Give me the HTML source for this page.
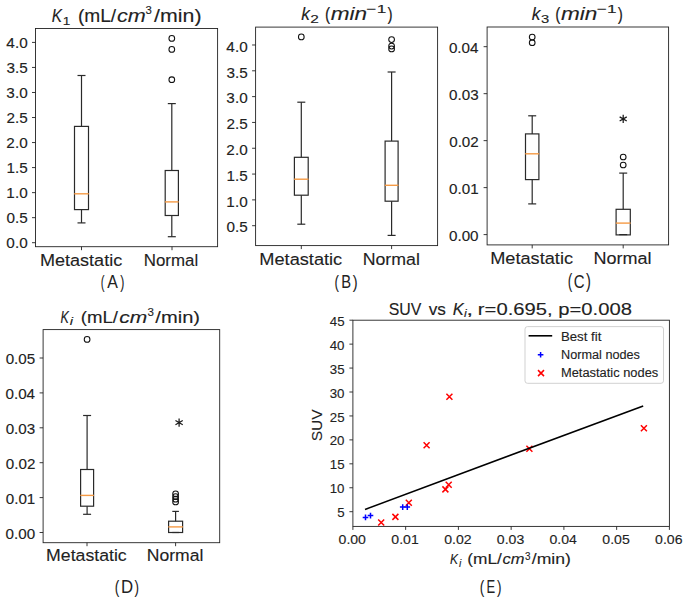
<!DOCTYPE html>
<html><head><meta charset="utf-8"><style>
html,body{margin:0;padding:0;background:#fff;}
svg{display:block;font-family:"Liberation Sans",sans-serif;}
text{stroke:#222;stroke-width:0.12px;}
text.ns{stroke:none;}
</style></head><body>
<svg width="685" height="602" viewBox="0 0 685 602">
<rect width="685" height="602" fill="#fff"/>
<rect x="35.5" y="28.5" width="182.1" height="218.2" fill="none" stroke="#222" stroke-width="0.9"/>
<line x1="32" y1="242.7" x2="35.5" y2="242.7" stroke="#222" stroke-width="0.9" />
<text x="6.38" y="248.3" font-size="13.9" font-style="normal" textLength="21.26" lengthAdjust="spacingAndGlyphs" fill="#222" >0.0</text>
<line x1="32" y1="217.66" x2="35.5" y2="217.66" stroke="#222" stroke-width="0.9" />
<text x="6.46" y="223.26" font-size="13.9" font-style="normal" textLength="21.26" lengthAdjust="spacingAndGlyphs" fill="#222" >0.5</text>
<line x1="32" y1="192.63" x2="35.5" y2="192.63" stroke="#222" stroke-width="0.9" />
<text x="6.38" y="198.23" font-size="13.9" font-style="normal" textLength="21.26" lengthAdjust="spacingAndGlyphs" fill="#222" >1.0</text>
<line x1="32" y1="167.59" x2="35.5" y2="167.59" stroke="#222" stroke-width="0.9" />
<text x="6.46" y="173.19" font-size="13.9" font-style="normal" textLength="21.26" lengthAdjust="spacingAndGlyphs" fill="#222" >1.5</text>
<line x1="32" y1="142.56" x2="35.5" y2="142.56" stroke="#222" stroke-width="0.9" />
<text x="6.38" y="148.16" font-size="13.9" font-style="normal" textLength="21.26" lengthAdjust="spacingAndGlyphs" fill="#222" >2.0</text>
<line x1="32" y1="117.52" x2="35.5" y2="117.52" stroke="#222" stroke-width="0.9" />
<text x="6.46" y="123.12" font-size="13.9" font-style="normal" textLength="21.26" lengthAdjust="spacingAndGlyphs" fill="#222" >2.5</text>
<line x1="32" y1="92.49" x2="35.5" y2="92.49" stroke="#222" stroke-width="0.9" />
<text x="6.38" y="98.09" font-size="13.9" font-style="normal" textLength="21.26" lengthAdjust="spacingAndGlyphs" fill="#222" >3.0</text>
<line x1="32" y1="67.45" x2="35.5" y2="67.45" stroke="#222" stroke-width="0.9" />
<text x="6.46" y="73.05" font-size="13.9" font-style="normal" textLength="21.26" lengthAdjust="spacingAndGlyphs" fill="#222" >3.5</text>
<line x1="32" y1="42.42" x2="35.5" y2="42.42" stroke="#222" stroke-width="0.9" />
<text x="6.38" y="48.02" font-size="13.9" font-style="normal" textLength="21.26" lengthAdjust="spacingAndGlyphs" fill="#222" >4.0</text>
<line x1="81.5" y1="246.7" x2="81.5" y2="250.2" stroke="#222" stroke-width="0.9" />
<line x1="172" y1="246.7" x2="172" y2="250.2" stroke="#222" stroke-width="0.9" />
<line x1="81.5" y1="75.5" x2="81.5" y2="126.4" stroke="#2a2a2a" stroke-width="1.2" />
<line x1="81.5" y1="209.6" x2="81.5" y2="222.9" stroke="#2a2a2a" stroke-width="1.2" />
<line x1="77.5" y1="75.5" x2="85.5" y2="75.5" stroke="#2a2a2a" stroke-width="1.2" />
<line x1="77.5" y1="222.9" x2="85.5" y2="222.9" stroke="#2a2a2a" stroke-width="1.2" />
<rect x="74.5" y="126.4" width="14" height="83.2" fill="none" stroke="#2a2a2a" stroke-width="1.2"/>
<line x1="74.2" y1="193.8" x2="88.8" y2="193.8" stroke="#f59a45" stroke-width="1.4" />
<line x1="171.8" y1="103.6" x2="171.8" y2="170.5" stroke="#2a2a2a" stroke-width="1.2" />
<line x1="171.8" y1="215.5" x2="171.8" y2="236.7" stroke="#2a2a2a" stroke-width="1.2" />
<line x1="167.8" y1="103.6" x2="175.8" y2="103.6" stroke="#2a2a2a" stroke-width="1.2" />
<line x1="167.8" y1="236.7" x2="175.8" y2="236.7" stroke="#2a2a2a" stroke-width="1.2" />
<rect x="165.2" y="170.5" width="13.2" height="45" fill="none" stroke="#2a2a2a" stroke-width="1.2"/>
<line x1="164.9" y1="201.9" x2="178.7" y2="201.9" stroke="#f59a45" stroke-width="1.4" />
<circle cx="171.8" cy="38.4" r="2.85" fill="none" stroke="#111" stroke-width="1.05"/>
<circle cx="171.8" cy="49.4" r="2.85" fill="none" stroke="#111" stroke-width="1.05"/>
<circle cx="171.8" cy="79.7" r="2.85" fill="none" stroke="#111" stroke-width="1.05"/>
<text x="39.96" y="266.3" font-size="16.9" font-style="normal" textLength="82.23" lengthAdjust="spacingAndGlyphs" fill="#222" >Metastatic</text>
<text x="143.75" y="265.8" font-size="16.9" font-style="normal" textLength="54.39" lengthAdjust="spacingAndGlyphs" fill="#222" >Normal</text>
<text x="100.67" y="287.6" font-size="19.04" font-style="normal" textLength="3.77" lengthAdjust="spacingAndGlyphs" fill="#222" class="ns">(</text>
<text x="107.25" y="287.5" font-size="17.83" font-style="normal" textLength="10.63" lengthAdjust="spacingAndGlyphs" fill="#222" class="ns">A</text>
<text x="120.29" y="287.6" font-size="19.04" font-style="normal" textLength="4.15" lengthAdjust="spacingAndGlyphs" fill="#222" class="ns">)</text>
<text x="51.74" y="21.7" font-size="18" font-style="italic" textLength="10.25" lengthAdjust="spacingAndGlyphs" fill="#222" >K</text>
<text x="62.88" y="24.6" font-size="11.8" font-style="normal" textLength="7.54" lengthAdjust="spacingAndGlyphs" fill="#222" >1</text>
<text x="77.95" y="21.8" font-size="18" font-style="normal" textLength="38.25" lengthAdjust="spacingAndGlyphs" fill="#222" >(mL/</text>
<text x="116.95" y="21.8" font-size="18" font-style="italic" textLength="28.79" lengthAdjust="spacingAndGlyphs" fill="#222" >cm</text>
<text x="145.55" y="14" font-size="11.8" font-style="normal" textLength="6.32" lengthAdjust="spacingAndGlyphs" fill="#222" >3</text>
<text x="154.1" y="21.8" font-size="18" font-style="normal" textLength="47.43" lengthAdjust="spacingAndGlyphs" fill="#222" >/min)</text>
<rect x="255.6" y="27.1" width="182" height="218.5" fill="none" stroke="#222" stroke-width="0.9"/>
<line x1="252.1" y1="225.7" x2="255.6" y2="225.7" stroke="#222" stroke-width="0.9" />
<text x="226.46" y="232.4" font-size="13.9" font-style="normal" textLength="21.26" lengthAdjust="spacingAndGlyphs" fill="#222" >0.5</text>
<line x1="252.1" y1="199.88" x2="255.6" y2="199.88" stroke="#222" stroke-width="0.9" />
<text x="226.38" y="206.58" font-size="13.9" font-style="normal" textLength="21.26" lengthAdjust="spacingAndGlyphs" fill="#222" >1.0</text>
<line x1="252.1" y1="174.07" x2="255.6" y2="174.07" stroke="#222" stroke-width="0.9" />
<text x="226.46" y="180.77" font-size="13.9" font-style="normal" textLength="21.26" lengthAdjust="spacingAndGlyphs" fill="#222" >1.5</text>
<line x1="252.1" y1="148.25" x2="255.6" y2="148.25" stroke="#222" stroke-width="0.9" />
<text x="226.38" y="154.95" font-size="13.9" font-style="normal" textLength="21.26" lengthAdjust="spacingAndGlyphs" fill="#222" >2.0</text>
<line x1="252.1" y1="122.44" x2="255.6" y2="122.44" stroke="#222" stroke-width="0.9" />
<text x="226.46" y="129.14" font-size="13.9" font-style="normal" textLength="21.26" lengthAdjust="spacingAndGlyphs" fill="#222" >2.5</text>
<line x1="252.1" y1="96.62" x2="255.6" y2="96.62" stroke="#222" stroke-width="0.9" />
<text x="226.38" y="103.32" font-size="13.9" font-style="normal" textLength="21.26" lengthAdjust="spacingAndGlyphs" fill="#222" >3.0</text>
<line x1="252.1" y1="70.81" x2="255.6" y2="70.81" stroke="#222" stroke-width="0.9" />
<text x="226.46" y="77.51" font-size="13.9" font-style="normal" textLength="21.26" lengthAdjust="spacingAndGlyphs" fill="#222" >3.5</text>
<line x1="252.1" y1="44.99" x2="255.6" y2="44.99" stroke="#222" stroke-width="0.9" />
<text x="226.38" y="51.69" font-size="13.9" font-style="normal" textLength="21.26" lengthAdjust="spacingAndGlyphs" fill="#222" >4.0</text>
<line x1="301.3" y1="245.6" x2="301.3" y2="249.1" stroke="#222" stroke-width="0.9" />
<line x1="391.6" y1="245.6" x2="391.6" y2="249.1" stroke="#222" stroke-width="0.9" />
<line x1="301.3" y1="102.2" x2="301.3" y2="157.3" stroke="#2a2a2a" stroke-width="1.2" />
<line x1="301.3" y1="195.2" x2="301.3" y2="224.2" stroke="#2a2a2a" stroke-width="1.2" />
<line x1="297.3" y1="102.2" x2="305.3" y2="102.2" stroke="#2a2a2a" stroke-width="1.2" />
<line x1="297.3" y1="224.2" x2="305.3" y2="224.2" stroke="#2a2a2a" stroke-width="1.2" />
<rect x="294.4" y="157.3" width="13.8" height="37.9" fill="none" stroke="#2a2a2a" stroke-width="1.2"/>
<line x1="294.1" y1="179.2" x2="308.5" y2="179.2" stroke="#f59a45" stroke-width="1.4" />
<circle cx="301.3" cy="36.9" r="2.85" fill="none" stroke="#111" stroke-width="1.05"/>
<line x1="391.6" y1="72" x2="391.6" y2="141.1" stroke="#2a2a2a" stroke-width="1.2" />
<line x1="391.6" y1="201.2" x2="391.6" y2="235.4" stroke="#2a2a2a" stroke-width="1.2" />
<line x1="387.6" y1="72" x2="395.6" y2="72" stroke="#2a2a2a" stroke-width="1.2" />
<line x1="387.6" y1="235.4" x2="395.6" y2="235.4" stroke="#2a2a2a" stroke-width="1.2" />
<rect x="385.1" y="141.1" width="13" height="60.1" fill="none" stroke="#2a2a2a" stroke-width="1.2"/>
<line x1="384.8" y1="185.3" x2="398.4" y2="185.3" stroke="#f59a45" stroke-width="1.4" />
<circle cx="391.6" cy="39.6" r="2.85" fill="none" stroke="#111" stroke-width="1.05"/>
<circle cx="391.6" cy="46.1" r="2.85" fill="none" stroke="#111" stroke-width="1.05"/>
<circle cx="391.6" cy="48.9" r="2.85" fill="none" stroke="#111" stroke-width="1.05"/>
<text x="259.35" y="264.9" font-size="16.9" font-style="normal" textLength="82.85" lengthAdjust="spacingAndGlyphs" fill="#222" >Metastatic</text>
<text x="362.68" y="264.7" font-size="16.9" font-style="normal" textLength="57.22" lengthAdjust="spacingAndGlyphs" fill="#222" >Normal</text>
<text x="334.56" y="287.56" font-size="19.25" font-style="normal" textLength="4.4" lengthAdjust="spacingAndGlyphs" fill="#222" class="ns">(</text>
<text x="341.17" y="287.6" font-size="18.26" font-style="normal" textLength="9.85" lengthAdjust="spacingAndGlyphs" fill="#222" class="ns">B</text>
<text x="352.78" y="287.56" font-size="19.25" font-style="normal" textLength="4.9" lengthAdjust="spacingAndGlyphs" fill="#222" class="ns">)</text>
<text x="301.14" y="20.1" font-size="18" font-style="italic" textLength="8.67" lengthAdjust="spacingAndGlyphs" fill="#222" >k</text>
<text x="310.23" y="22.8" font-size="11.8" font-style="normal" textLength="8.56" lengthAdjust="spacingAndGlyphs" fill="#222" >2</text>
<text x="324.97" y="20.1" font-size="18" font-style="normal" textLength="5.15" lengthAdjust="spacingAndGlyphs" fill="#222" >(</text>
<text x="330.66" y="20.1" font-size="18" font-style="italic" textLength="36.39" lengthAdjust="spacingAndGlyphs" fill="#222" >min</text>
<text x="366.64" y="13" font-size="11.8" font-style="normal" textLength="19.64" lengthAdjust="spacingAndGlyphs" fill="#222" >−1</text>
<text x="387.42" y="20.1" font-size="18" font-style="normal" textLength="5.15" lengthAdjust="spacingAndGlyphs" fill="#222" >)</text>
<rect x="487.1" y="27" width="181.5" height="217.9" fill="none" stroke="#222" stroke-width="0.9"/>
<line x1="483.6" y1="234.6" x2="487.1" y2="234.6" stroke="#222" stroke-width="0.9" />
<text x="448.98" y="240.5" font-size="14.2" font-style="normal" textLength="29.57" lengthAdjust="spacingAndGlyphs" fill="#222" >0.00</text>
<line x1="483.6" y1="187.62" x2="487.1" y2="187.62" stroke="#222" stroke-width="0.9" />
<text x="449.13" y="193.52" font-size="14.2" font-style="normal" textLength="29.57" lengthAdjust="spacingAndGlyphs" fill="#222" >0.01</text>
<line x1="483.6" y1="140.64" x2="487.1" y2="140.64" stroke="#222" stroke-width="0.9" />
<text x="449.21" y="146.54" font-size="14.2" font-style="normal" textLength="29.57" lengthAdjust="spacingAndGlyphs" fill="#222" >0.02</text>
<line x1="483.6" y1="93.66" x2="487.1" y2="93.66" stroke="#222" stroke-width="0.9" />
<text x="449.06" y="99.56" font-size="14.2" font-style="normal" textLength="29.57" lengthAdjust="spacingAndGlyphs" fill="#222" >0.03</text>
<line x1="483.6" y1="46.68" x2="487.1" y2="46.68" stroke="#222" stroke-width="0.9" />
<text x="448.9" y="52.58" font-size="14.2" font-style="normal" textLength="29.57" lengthAdjust="spacingAndGlyphs" fill="#222" >0.04</text>
<line x1="532.2" y1="244.9" x2="532.2" y2="248.4" stroke="#222" stroke-width="0.9" />
<line x1="623.2" y1="244.9" x2="623.2" y2="248.4" stroke="#222" stroke-width="0.9" />
<line x1="532.2" y1="115.8" x2="532.2" y2="133.9" stroke="#2a2a2a" stroke-width="1.2" />
<line x1="532.2" y1="179.6" x2="532.2" y2="203.9" stroke="#2a2a2a" stroke-width="1.2" />
<line x1="528.2" y1="115.8" x2="536.2" y2="115.8" stroke="#2a2a2a" stroke-width="1.2" />
<line x1="528.2" y1="203.9" x2="536.2" y2="203.9" stroke="#2a2a2a" stroke-width="1.2" />
<rect x="525.5" y="133.9" width="13.4" height="45.7" fill="none" stroke="#2a2a2a" stroke-width="1.2"/>
<line x1="525.2" y1="153.8" x2="539.2" y2="153.8" stroke="#f59a45" stroke-width="1.4" />
<circle cx="532.2" cy="37.1" r="2.85" fill="none" stroke="#111" stroke-width="1.05"/>
<circle cx="532.2" cy="42.7" r="2.85" fill="none" stroke="#111" stroke-width="1.05"/>
<line x1="623.2" y1="173.1" x2="623.2" y2="209.3" stroke="#2a2a2a" stroke-width="1.2" />
<line x1="623.2" y1="234.9" x2="623.2" y2="234.6" stroke="#2a2a2a" stroke-width="1.2" />
<line x1="619.2" y1="173.1" x2="627.2" y2="173.1" stroke="#2a2a2a" stroke-width="1.2" />
<line x1="619.2" y1="234.6" x2="627.2" y2="234.6" stroke="#2a2a2a" stroke-width="1.2" />
<rect x="616.1" y="209.3" width="14.2" height="25.6" fill="none" stroke="#2a2a2a" stroke-width="1.2"/>
<line x1="615.8" y1="223.1" x2="630.6" y2="223.1" stroke="#f59a45" stroke-width="1.4" />
<circle cx="623.2" cy="157" r="2.85" fill="none" stroke="#111" stroke-width="1.05"/>
<circle cx="623.2" cy="165" r="2.85" fill="none" stroke="#111" stroke-width="1.05"/>
<path d="M623.2,123L623.2,114.8M619.65,120.95L626.75,116.85M626.75,120.95L619.65,116.85" stroke="#1a1a1a" stroke-width="1.25" fill="none"/>
<text x="490.25" y="264.2" font-size="16.9" font-style="normal" textLength="82.75" lengthAdjust="spacingAndGlyphs" fill="#222" >Metastatic</text>
<text x="593.46" y="264.2" font-size="16.9" font-style="normal" textLength="58.06" lengthAdjust="spacingAndGlyphs" fill="#222" >Normal</text>
<text x="567.63" y="287.63" font-size="19.36" font-style="normal" textLength="4.52" lengthAdjust="spacingAndGlyphs" fill="#222" class="ns">(</text>
<text x="573.8" y="287.62" font-size="18.03" font-style="normal" textLength="10.8" lengthAdjust="spacingAndGlyphs" fill="#222" class="ns">C</text>
<text x="585.88" y="287.63" font-size="19.36" font-style="normal" textLength="4.9" lengthAdjust="spacingAndGlyphs" fill="#222" class="ns">)</text>
<text x="531.64" y="20.2" font-size="18" font-style="italic" textLength="8.67" lengthAdjust="spacingAndGlyphs" fill="#222" >k</text>
<text x="540.91" y="22.9" font-size="11.8" font-style="normal" textLength="8.2" lengthAdjust="spacingAndGlyphs" fill="#222" >3</text>
<text x="555.37" y="20.2" font-size="18" font-style="normal" textLength="5.15" lengthAdjust="spacingAndGlyphs" fill="#222" >(</text>
<text x="561.06" y="20.2" font-size="18" font-style="italic" textLength="36.39" lengthAdjust="spacingAndGlyphs" fill="#222" >min</text>
<text x="597.04" y="13.1" font-size="11.8" font-style="normal" textLength="19.64" lengthAdjust="spacingAndGlyphs" fill="#222" >−1</text>
<text x="617.82" y="20.2" font-size="18" font-style="normal" textLength="5.15" lengthAdjust="spacingAndGlyphs" fill="#222" >)</text>
<rect x="43.1" y="329.6" width="176.6" height="213.1" fill="none" stroke="#222" stroke-width="0.9"/>
<line x1="39.6" y1="532.5" x2="43.1" y2="532.5" stroke="#222" stroke-width="0.9" />
<text x="5.58" y="538.6" font-size="14.2" font-style="normal" textLength="29.57" lengthAdjust="spacingAndGlyphs" fill="#222" >0.00</text>
<line x1="39.6" y1="497.6" x2="43.1" y2="497.6" stroke="#222" stroke-width="0.9" />
<text x="5.73" y="503.7" font-size="14.2" font-style="normal" textLength="29.57" lengthAdjust="spacingAndGlyphs" fill="#222" >0.01</text>
<line x1="39.6" y1="462.7" x2="43.1" y2="462.7" stroke="#222" stroke-width="0.9" />
<text x="5.81" y="468.8" font-size="14.2" font-style="normal" textLength="29.57" lengthAdjust="spacingAndGlyphs" fill="#222" >0.02</text>
<line x1="39.6" y1="427.8" x2="43.1" y2="427.8" stroke="#222" stroke-width="0.9" />
<text x="5.66" y="433.9" font-size="14.2" font-style="normal" textLength="29.57" lengthAdjust="spacingAndGlyphs" fill="#222" >0.03</text>
<line x1="39.6" y1="392.9" x2="43.1" y2="392.9" stroke="#222" stroke-width="0.9" />
<text x="5.5" y="399" font-size="14.2" font-style="normal" textLength="29.57" lengthAdjust="spacingAndGlyphs" fill="#222" >0.04</text>
<line x1="39.6" y1="358" x2="43.1" y2="358" stroke="#222" stroke-width="0.9" />
<text x="5.66" y="364.1" font-size="14.2" font-style="normal" textLength="29.57" lengthAdjust="spacingAndGlyphs" fill="#222" >0.05</text>
<line x1="87" y1="542.7" x2="87" y2="546.2" stroke="#222" stroke-width="0.9" />
<line x1="175.6" y1="542.7" x2="175.6" y2="546.2" stroke="#222" stroke-width="0.9" />
<line x1="87.1" y1="415.5" x2="87.1" y2="469.5" stroke="#2a2a2a" stroke-width="1.2" />
<line x1="87.1" y1="506.2" x2="87.1" y2="514.3" stroke="#2a2a2a" stroke-width="1.2" />
<line x1="83.1" y1="415.5" x2="91.1" y2="415.5" stroke="#2a2a2a" stroke-width="1.2" />
<line x1="83.1" y1="514.3" x2="91.1" y2="514.3" stroke="#2a2a2a" stroke-width="1.2" />
<rect x="80.6" y="469.5" width="13" height="36.7" fill="none" stroke="#2a2a2a" stroke-width="1.2"/>
<line x1="80.3" y1="495.4" x2="93.9" y2="495.4" stroke="#f59a45" stroke-width="1.4" />
<circle cx="87.1" cy="339.4" r="2.85" fill="none" stroke="#111" stroke-width="1.05"/>
<line x1="175.6" y1="511.4" x2="175.6" y2="521.2" stroke="#2a2a2a" stroke-width="1.2" />
<line x1="175.6" y1="532.5" x2="175.6" y2="532.5" stroke="#2a2a2a" stroke-width="1.2" />
<line x1="172.3" y1="511.4" x2="178.9" y2="511.4" stroke="#2a2a2a" stroke-width="1.2" />
<line x1="172.3" y1="532.5" x2="178.9" y2="532.5" stroke="#2a2a2a" stroke-width="1.2" />
<rect x="168.6" y="521.2" width="14" height="11.3" fill="none" stroke="#2a2a2a" stroke-width="1.2"/>
<line x1="168.3" y1="526.9" x2="182.9" y2="526.9" stroke="#f59a45" stroke-width="1.4" />
<circle cx="175.6" cy="493.8" r="2.85" fill="none" stroke="#111" stroke-width="1.05"/>
<circle cx="175.6" cy="496.5" r="2.85" fill="none" stroke="#111" stroke-width="1.05"/>
<circle cx="175.6" cy="499.2" r="2.85" fill="none" stroke="#111" stroke-width="1.05"/>
<circle cx="175.6" cy="501.9" r="2.85" fill="none" stroke="#111" stroke-width="1.05"/>
<path d="M179.1,426.8L179.1,418.4M175.46,424.7L182.74,420.5M182.74,424.7L175.46,420.5" stroke="#1a1a1a" stroke-width="1.25" fill="none"/>
<text x="46.09" y="561.3" font-size="16.9" font-style="normal" textLength="80.6" lengthAdjust="spacingAndGlyphs" fill="#222" >Metastatic</text>
<text x="146.8" y="561.3" font-size="16.9" font-style="normal" textLength="56.6" lengthAdjust="spacingAndGlyphs" fill="#222" >Normal</text>
<text x="114.63" y="593.08" font-size="19.14" font-style="normal" textLength="4.52" lengthAdjust="spacingAndGlyphs" fill="#222" class="ns">(</text>
<text x="121.11" y="593.3" font-size="18.55" font-style="normal" textLength="12.14" lengthAdjust="spacingAndGlyphs" fill="#222" class="ns">D</text>
<text x="134.58" y="593.08" font-size="19.14" font-style="normal" textLength="4.52" lengthAdjust="spacingAndGlyphs" fill="#222" class="ns">)</text>
<text x="60.52" y="323" font-size="16.1" font-style="italic" textLength="8.36" lengthAdjust="spacingAndGlyphs" fill="#222" >K</text>
<text x="69.78" y="325.3" font-size="11.3" font-style="italic" textLength="3.28" lengthAdjust="spacingAndGlyphs" fill="#222" >i</text>
<text x="80.78" y="323" font-size="16.1" font-style="normal" textLength="37.22" lengthAdjust="spacingAndGlyphs" fill="#222" >(mL/</text>
<text x="119.27" y="323" font-size="16.1" font-style="italic" textLength="27.94" lengthAdjust="spacingAndGlyphs" fill="#222" >cm</text>
<text x="147.64" y="316.2" font-size="11.3" font-style="normal" textLength="6.44" lengthAdjust="spacingAndGlyphs" fill="#222" >3</text>
<text x="155.3" y="323" font-size="16.1" font-style="normal" textLength="44.75" lengthAdjust="spacingAndGlyphs" fill="#222" >/min)</text>
<rect x="352.9" y="320.2" width="316.5" height="206.2" fill="none" stroke="#222" stroke-width="0.9"/>
<line x1="349.4" y1="511.7" x2="352.9" y2="511.7" stroke="#222" stroke-width="0.9" />
<text x="337.16" y="517.3" font-size="12.9" font-style="normal" textLength="7.39" lengthAdjust="spacingAndGlyphs" fill="#222" >5</text>
<line x1="349.4" y1="487.76" x2="352.9" y2="487.76" stroke="#222" stroke-width="0.9" />
<text x="329.72" y="493.36" font-size="12.9" font-style="normal" textLength="14.78" lengthAdjust="spacingAndGlyphs" fill="#222" >10</text>
<line x1="349.4" y1="463.82" x2="352.9" y2="463.82" stroke="#222" stroke-width="0.9" />
<text x="329.78" y="469.43" font-size="12.9" font-style="normal" textLength="14.78" lengthAdjust="spacingAndGlyphs" fill="#222" >15</text>
<line x1="349.4" y1="439.89" x2="352.9" y2="439.89" stroke="#222" stroke-width="0.9" />
<text x="329.72" y="445.49" font-size="12.9" font-style="normal" textLength="14.78" lengthAdjust="spacingAndGlyphs" fill="#222" >20</text>
<line x1="349.4" y1="415.95" x2="352.9" y2="415.95" stroke="#222" stroke-width="0.9" />
<text x="329.78" y="421.55" font-size="12.9" font-style="normal" textLength="14.78" lengthAdjust="spacingAndGlyphs" fill="#222" >25</text>
<line x1="349.4" y1="392.01" x2="352.9" y2="392.01" stroke="#222" stroke-width="0.9" />
<text x="329.72" y="397.61" font-size="12.9" font-style="normal" textLength="14.78" lengthAdjust="spacingAndGlyphs" fill="#222" >30</text>
<line x1="349.4" y1="368.07" x2="352.9" y2="368.07" stroke="#222" stroke-width="0.9" />
<text x="329.78" y="373.68" font-size="12.9" font-style="normal" textLength="14.78" lengthAdjust="spacingAndGlyphs" fill="#222" >35</text>
<line x1="349.4" y1="344.14" x2="352.9" y2="344.14" stroke="#222" stroke-width="0.9" />
<text x="329.72" y="349.74" font-size="12.9" font-style="normal" textLength="14.78" lengthAdjust="spacingAndGlyphs" fill="#222" >40</text>
<line x1="349.4" y1="320.2" x2="352.9" y2="320.2" stroke="#222" stroke-width="0.9" />
<text x="329.78" y="325.8" font-size="12.9" font-style="normal" textLength="14.78" lengthAdjust="spacingAndGlyphs" fill="#222" >45</text>
<line x1="352.9" y1="526.4" x2="352.9" y2="529.9" stroke="#222" stroke-width="0.9" />
<text x="338.57" y="543.6" font-size="12.8" font-style="normal" textLength="27.4" lengthAdjust="spacingAndGlyphs" fill="#222" >0.00</text>
<line x1="405.65" y1="526.4" x2="405.65" y2="529.9" stroke="#222" stroke-width="0.9" />
<text x="391.39" y="543.6" font-size="12.8" font-style="normal" textLength="27.4" lengthAdjust="spacingAndGlyphs" fill="#222" >0.01</text>
<line x1="458.4" y1="526.4" x2="458.4" y2="529.9" stroke="#222" stroke-width="0.9" />
<text x="444.18" y="543.6" font-size="12.8" font-style="normal" textLength="27.4" lengthAdjust="spacingAndGlyphs" fill="#222" >0.02</text>
<line x1="511.15" y1="526.4" x2="511.15" y2="529.9" stroke="#222" stroke-width="0.9" />
<text x="496.86" y="543.6" font-size="12.8" font-style="normal" textLength="27.4" lengthAdjust="spacingAndGlyphs" fill="#222" >0.03</text>
<line x1="563.9" y1="526.4" x2="563.9" y2="529.9" stroke="#222" stroke-width="0.9" />
<text x="549.54" y="543.6" font-size="12.8" font-style="normal" textLength="27.4" lengthAdjust="spacingAndGlyphs" fill="#222" >0.04</text>
<line x1="616.65" y1="526.4" x2="616.65" y2="529.9" stroke="#222" stroke-width="0.9" />
<text x="602.36" y="543.6" font-size="12.8" font-style="normal" textLength="27.4" lengthAdjust="spacingAndGlyphs" fill="#222" >0.05</text>
<line x1="669.4" y1="526.4" x2="669.4" y2="529.9" stroke="#222" stroke-width="0.9" />
<text x="655.11" y="543.6" font-size="12.8" font-style="normal" textLength="27.4" lengthAdjust="spacingAndGlyphs" fill="#222" >0.06</text>
<g transform="translate(321.6,425) rotate(-90)">
<text x="-16.24" y="0" font-size="15.5" font-style="normal" textLength="31.87" lengthAdjust="spacingAndGlyphs" fill="#222" >SUV</text>
</g>
<path d="M378.2,519.5L384.2,525.5M378.2,525.5L384.2,519.5" stroke="#ff0000" stroke-width="1.5" fill="none"/>
<path d="M392.4,513.9L398.4,519.9M392.4,519.9L398.4,513.9" stroke="#ff0000" stroke-width="1.5" fill="none"/>
<path d="M405.8,499.7L411.8,505.7M405.8,505.7L411.8,499.7" stroke="#ff0000" stroke-width="1.5" fill="none"/>
<path d="M423.6,442.2L429.6,448.2M423.6,448.2L429.6,442.2" stroke="#ff0000" stroke-width="1.5" fill="none"/>
<path d="M446.4,393.7L452.4,399.7M446.4,399.7L452.4,393.7" stroke="#ff0000" stroke-width="1.5" fill="none"/>
<path d="M442.4,486.4L448.4,492.4M442.4,492.4L448.4,486.4" stroke="#ff0000" stroke-width="1.5" fill="none"/>
<path d="M445.7,481.7L451.7,487.7M445.7,487.7L451.7,481.7" stroke="#ff0000" stroke-width="1.5" fill="none"/>
<path d="M526.4,445.7L532.4,451.7M526.4,451.7L532.4,445.7" stroke="#ff0000" stroke-width="1.5" fill="none"/>
<path d="M640.9,425.2L646.9,431.2M640.9,431.2L646.9,425.2" stroke="#ff0000" stroke-width="1.5" fill="none"/>
<path d="M362.7,517.4H368.3M365.5,514.6V520.2" stroke="#0000ff" stroke-width="1.5" fill="none"/>
<path d="M367.7,515.6H373.3M370.5,512.8V518.4" stroke="#0000ff" stroke-width="1.5" fill="none"/>
<path d="M399.9,507.1H405.5M402.7,504.3V509.9" stroke="#0000ff" stroke-width="1.5" fill="none"/>
<path d="M404.5,507.1H410.1M407.3,504.3V509.9" stroke="#0000ff" stroke-width="1.5" fill="none"/>
<line x1="365" y1="509.4" x2="643.2" y2="405.9" stroke="#000" stroke-width="1.6" />
<rect x="525" y="326.6" width="138.5" height="56.7" rx="2.5" fill="#fff" fill-opacity="0.8" stroke="#ccc" stroke-width="0.9"/>
<line x1="528.6" y1="335.8" x2="552.2" y2="335.8" stroke="#000" stroke-width="1.6" />
<path d="M537.8,354.8H543.4M540.6,352V357.6" stroke="#0000ff" stroke-width="1.5" fill="none"/>
<path d="M538,370.1L544,376.1M538,376.1L544,370.1" stroke="#ff0000" stroke-width="1.5" fill="none"/>
<text x="560.94" y="340.8" font-size="12.5" font-style="normal" textLength="40.45" lengthAdjust="spacingAndGlyphs" fill="#222" >Best fit</text>
<text x="560.99" y="358.8" font-size="12.5" font-style="normal" textLength="78.96" lengthAdjust="spacingAndGlyphs" fill="#222" >Normal nodes</text>
<text x="560.97" y="376.6" font-size="12.5" font-style="normal" textLength="97.28" lengthAdjust="spacingAndGlyphs" fill="#222" >Metastatic nodes</text>
<text x="388.69" y="314.6" font-size="16" font-style="normal" textLength="32.61" lengthAdjust="spacingAndGlyphs" fill="#222" >SUV</text>
<text x="428.71" y="314.6" font-size="16" font-style="normal" textLength="17.19" lengthAdjust="spacingAndGlyphs" fill="#222" >vs</text>
<text x="452.7" y="314.6" font-size="16" font-style="italic" textLength="11.05" lengthAdjust="spacingAndGlyphs" fill="#222" >K</text>
<text x="464.11" y="317.3" font-size="11.2" font-style="italic" textLength="2.8" lengthAdjust="spacingAndGlyphs" fill="#222" >i</text>
<text x="466.15" y="314.6" font-size="16" font-style="normal" textLength="6.95" lengthAdjust="spacingAndGlyphs" fill="#222" >,</text>
<text x="477.89" y="314.6" font-size="16" font-style="normal" textLength="154.08" lengthAdjust="spacingAndGlyphs" fill="#222" >r=0.695, p=0.008</text>
<text x="450.04" y="564.1" font-size="15" font-style="italic" textLength="8.06" lengthAdjust="spacingAndGlyphs" fill="#222" >K</text>
<text x="459.04" y="566.6" font-size="10.5" font-style="italic" textLength="2.32" lengthAdjust="spacingAndGlyphs" fill="#222" >i</text>
<text x="467.26" y="564.1" font-size="15" font-style="normal" textLength="34.64" lengthAdjust="spacingAndGlyphs" fill="#222" >(mL/</text>
<text x="502.41" y="564.1" font-size="15" font-style="italic" textLength="21.99" lengthAdjust="spacingAndGlyphs" fill="#222" >cm</text>
<text x="525" y="559.9" font-size="10.5" font-style="normal" textLength="5.5" lengthAdjust="spacingAndGlyphs" fill="#222" >3</text>
<text x="531.8" y="564.1" font-size="15" font-style="normal" textLength="39.1" lengthAdjust="spacingAndGlyphs" fill="#222" >/min)</text>
<text x="479.63" y="593.08" font-size="19.14" font-style="normal" textLength="4.52" lengthAdjust="spacingAndGlyphs" fill="#222" class="ns">(</text>
<text x="486.41" y="593.3" font-size="18.55" font-style="normal" textLength="8.69" lengthAdjust="spacingAndGlyphs" fill="#222" class="ns">E</text>
<text x="496.98" y="593.08" font-size="19.14" font-style="normal" textLength="4.52" lengthAdjust="spacingAndGlyphs" fill="#222" class="ns">)</text>
</svg>
</body></html>
